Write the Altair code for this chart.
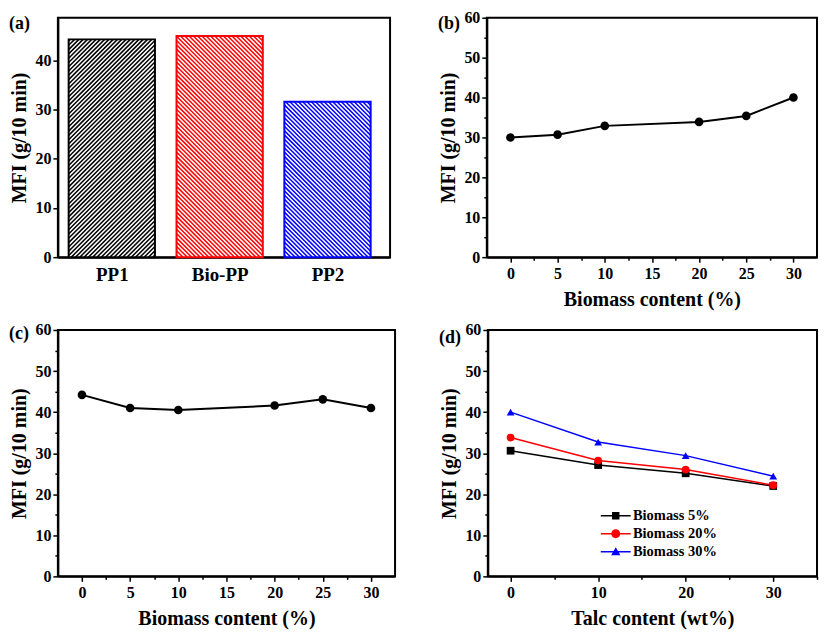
import json
import altair as alt
import numpy as np
import pandas as pd

FONT = "Liberation Serif"

# ---------------- data ----------------
panel_labels = ["(a)", "(b)", "(c)", "(d)"]

samples = ["PP1", "Bio-PP", "PP2"]
mfi_a = [44.3, 45.0, 31.6]
colors_a = ["#000000", "#ff0000", "#0000ff"]
hatch_dir = [1, -1, -1]          # 1 = "////", -1 = "\\\\"
bar_pos = [0.5, 1.5, 2.5]

biomass_b = [0, 5, 10, 20, 25, 30]
mfi_b = [30.0, 30.7, 32.9, 33.9, 35.4, 40.0]

biomass_c = [0, 5, 10, 20, 25, 30]
mfi_c = [44.2, 41.0, 40.5, 41.6, 43.1, 41.0]

talc = [0, 10, 20, 30]
series_d = ["Biomass 5%", "Biomass 20%", "Biomass 30%"]
mfi_d5 = [30.6, 27.1, 25.1, 22.0]
mfi_d20 = [33.8, 28.2, 26.0, 22.2]
mfi_d30 = [40.0, 32.7, 29.4, 24.4]
colors_d = ["#000000", "#ff0000", "#0000ff"]
shapes_d = ["square", "circle", "triangle-up"]

# ---------------- sizes ----------------
WA, HA = 333, 240
WB, HB = 331, 240
WC, HC = 338, 247
WD, HD = 330, 247
XA = [0, 3.08]
YA = [0, 48.7]
BAR_HALF = 0.4


def minor_dash(step):
    return {"condition": {"test": f"datum.value % {step} !== 0", "value": [3, 10]}, "value": [10, 0]}


def y_axis(step, top):
    vals = np.arange(0, top + 0.001, step / 2).tolist()
    return alt.Axis(
        values=vals,
        title="MFI (g/10 min)",
        labelExpr=f"datum.value % {step} === 0 ? datum.label : ''",
        tickSize=5,
        tickDash=minor_dash(step),
        titlePadding=5,
    )


def x_axis(step, lo, hi, title):
    vals = np.arange(lo, hi + 0.001, step / 2).tolist()
    return alt.Axis(
        values=vals,
        title=title,
        labelExpr=f"datum.value % {step} === 0 ? datum.label : ''",
        tickSize=5,
        tickDash=minor_dash(step),
        titlePadding=8,
        labelPadding=3,
    )


def panel_label(txt, dy):
    return alt.Chart(pd.DataFrame({"t": [txt]})).mark_text(
        align="left", baseline="middle", font=FONT, fontSize=18, fontWeight="bold", color="black"
    ).encode(text="t:N", x=alt.value(-49), y=alt.value(dy))


# ---------------- (a) hatched bars ----------------
df_a = pd.DataFrame({
    "sample": samples,
    "x0": [p - BAR_HALF for p in bar_pos],
    "x1": [p + BAR_HALF for p in bar_pos],
    "mfi": mfi_a,
})

kx = WA / (XA[1] - XA[0])
ky = HA / (YA[1] - YA[0])
period = 4.3
rows = []
for s, x0, x1, v, d in zip(samples, df_a["x0"], df_a["x1"], mfi_a, hatch_dir):
    X0, X1 = (x0 - XA[0]) * kx, (x1 - XA[0]) * kx
    h = v * ky
    w = X1 - X0
    if d == 1:
        for b in np.arange(-w + period / 2, h, period):
            xa, xb = max(X0, X0 - b), min(X1, X0 + h - b)
            if xb <= xa:
                continue
            ya, yb = xa - X0 + b, xb - X0 + b
            rows.append(dict(sample=s, x=xa / kx + XA[0], x2=xb / kx + XA[0], y=ya / ky, y2=yb / ky))
    else:
        for b in np.arange(period / 2, h + w, period):
            xa, xb = max(X0, X0 + b - h), min(X1, X0 + b)
            if xb <= xa:
                continue
            ya, yb = -(xa - X0) + b, -(xb - X0) + b
            rows.append(dict(sample=s, x=xa / kx + XA[0], x2=xb / kx + XA[0], y=ya / ky, y2=yb / ky))
df_hatch = pd.DataFrame(rows)

xa_enc = alt.X(
    "x0:Q",
    scale=alt.Scale(domain=XA, nice=False, zero=False),
    axis=alt.Axis(values=bar_pos, title=None, ticks=False,
                  labelExpr=f"{json.dumps(samples)}[floor(datum.value)]",
                  labelFontSize=19, labelPadding=8),
)
ya_enc = alt.Y("mfi:Q", scale=alt.Scale(domain=YA, nice=False), axis=y_axis(10, 45))

layers_a = [alt.Chart(df_a).mark_rect(fill="white").encode(x=xa_enc, x2="x1:Q", y=ya_enc, y2=alt.datum(0))]
for s, c in zip(samples, colors_a):
    layers_a.append(
        alt.Chart(df_hatch).transform_filter(alt.datum.sample == s).mark_rule(strokeWidth=1.5, color=c).encode(
            x=alt.X("x:Q", scale=alt.Scale(domain=XA, nice=False, zero=False)),
            x2="x2:Q",
            y=alt.Y("y:Q", scale=alt.Scale(domain=YA, nice=False)),
            y2="y2:Q",
        )
    )
    layers_a.append(
        alt.Chart(df_a).transform_filter(alt.datum.sample == s)
        .mark_rect(fillOpacity=0, stroke=c, strokeWidth=2)
        .encode(x=xa_enc, x2="x1:Q", y=ya_enc, y2=alt.datum(0))
    )
layers_a.append(panel_label(panel_labels[0], 6))
panel_a = alt.layer(*layers_a).properties(width=WA, height=HA)

# ---------------- (b) ----------------
df_b = pd.DataFrame({"biomass": biomass_b, "mfi": mfi_b})
xb = alt.X("biomass:Q", scale=alt.Scale(domain=[-2.5, 32.5], nice=False, zero=False),
           axis=x_axis(5, 0, 30, "Biomass content (%)"))
yb = alt.Y("mfi:Q", scale=alt.Scale(domain=[0, 60], nice=False), axis=y_axis(10, 60))
panel_b = alt.layer(
    alt.Chart(df_b).mark_line(color="black", strokeWidth=2).encode(x=xb, y=yb),
    alt.Chart(df_b).mark_circle(color="black", size=75, opacity=1).encode(x=xb, y=yb),
    panel_label(panel_labels[1], 6),
).properties(width=WB, height=HB)

# ---------------- (c) ----------------
df_c = pd.DataFrame({"biomass": biomass_c, "mfi": mfi_c})
xc = alt.X("biomass:Q", scale=alt.Scale(domain=[-2.5, 32.5], nice=False, zero=False),
           axis=x_axis(5, 0, 30, "Biomass content (%)"))
yc = alt.Y("mfi:Q", scale=alt.Scale(domain=[0, 60], nice=False), axis=y_axis(10, 60))
panel_c = alt.layer(
    alt.Chart(df_c).mark_line(color="black", strokeWidth=2).encode(x=xc, y=yc),
    alt.Chart(df_c).mark_circle(color="black", size=75, opacity=1).encode(x=xc, y=yc),
    panel_label(panel_labels[2], 4),
).properties(width=WC, height=HC)

# ---------------- (d) ----------------
df_d = pd.DataFrame({
    "talc": talc * 3,
    "mfi": mfi_d5 + mfi_d20 + mfi_d30,
    "series": [series_d[0]] * 4 + [series_d[1]] * 4 + [series_d[2]] * 4,
})
xd = alt.X("talc:Q", scale=alt.Scale(domain=[-2.6, 35], nice=False, zero=False),
           axis=x_axis(10, 0, 35, "Talc content (wt%)"))
yd = alt.Y("mfi:Q", scale=alt.Scale(domain=[0, 60], nice=False), axis=y_axis(10, 60))
cscale = alt.Scale(domain=series_d, range=colors_d)

# legend symbols: a thin filled bar (line) plus the filled marker
LINE = "M-2.14,-0.107H2.14V0.107H-2.14Z"
sym_paths = [
    LINE + "M-0.53,-0.53H0.53V0.53H-0.53Z",
    LINE + "M0.64,0A0.64,0.64,0,1,1,-0.64,0A0.64,0.64,0,1,1,0.64,0Z",
    LINE + "M0,-0.64L0.66,0.5H-0.66Z",
]
# the legend is hoisted to the top level, so it is placed relative to panel (a)'s plot origin
leg = alt.Legend(
    title=None, orient="none", legendX=552, legendY=492,
    symbolSize=196, symbolStrokeWidth=0, symbolOpacity=1,
    labelFont=FONT, labelFontSize=14.5, labelFontWeight="bold", labelColor="black",
    labelOffset=10, rowPadding=3, padding=0,
)

layers_d = []
for s, c, shp in zip(series_d, colors_d, shapes_d):
    sub = alt.Chart(df_d).transform_filter(alt.datum.series == s)
    layers_d.append(sub.mark_line(strokeWidth=1.5, color=c).encode(x=xd, y=yd))
for s, c, shp in zip(series_d, colors_d, shapes_d):
    sub = alt.Chart(df_d).transform_filter(alt.datum.series == s)
    layers_d.append(sub.mark_point(filled=True, size=60, opacity=1, color=c, shape=shp).encode(x=xd, y=yd))

leg_d = alt.Chart(df_d).mark_point(filled=True, size=10, opacity=0).encode(
    x=xd, y=yd,
    color=alt.Color("series:N", scale=cscale, legend=leg),
    shape=alt.Shape("series:N", scale=alt.Scale(domain=series_d, range=sym_paths), legend=leg),
)
layers_d.append(leg_d)
layers_d.append(panel_label(panel_labels[3], 8))
panel_d = alt.layer(*layers_d).properties(width=WD, height=HD)

row1 = alt.hconcat(panel_a, panel_b, spacing=46)
row2 = alt.hconcat(panel_c, panel_d, spacing=42)
chart = alt.vconcat(row1, row2, spacing=11).properties(
    padding={"left": 0, "top": 0, "right": 0, "bottom": 0}
).configure_axis(
    labelFont=FONT, labelFontWeight="bold", labelFontSize=16, labelColor="black",
    titleFont=FONT, titleFontWeight="bold", titleFontSize=20, titleColor="black",
    domainColor="black", domainWidth=2, tickColor="black", tickWidth=1.5, grid=False,
).configure_view(stroke="black", strokeWidth=2)

chart.save("out.html", embed_options={"renderer": "svg", "actions": False})
